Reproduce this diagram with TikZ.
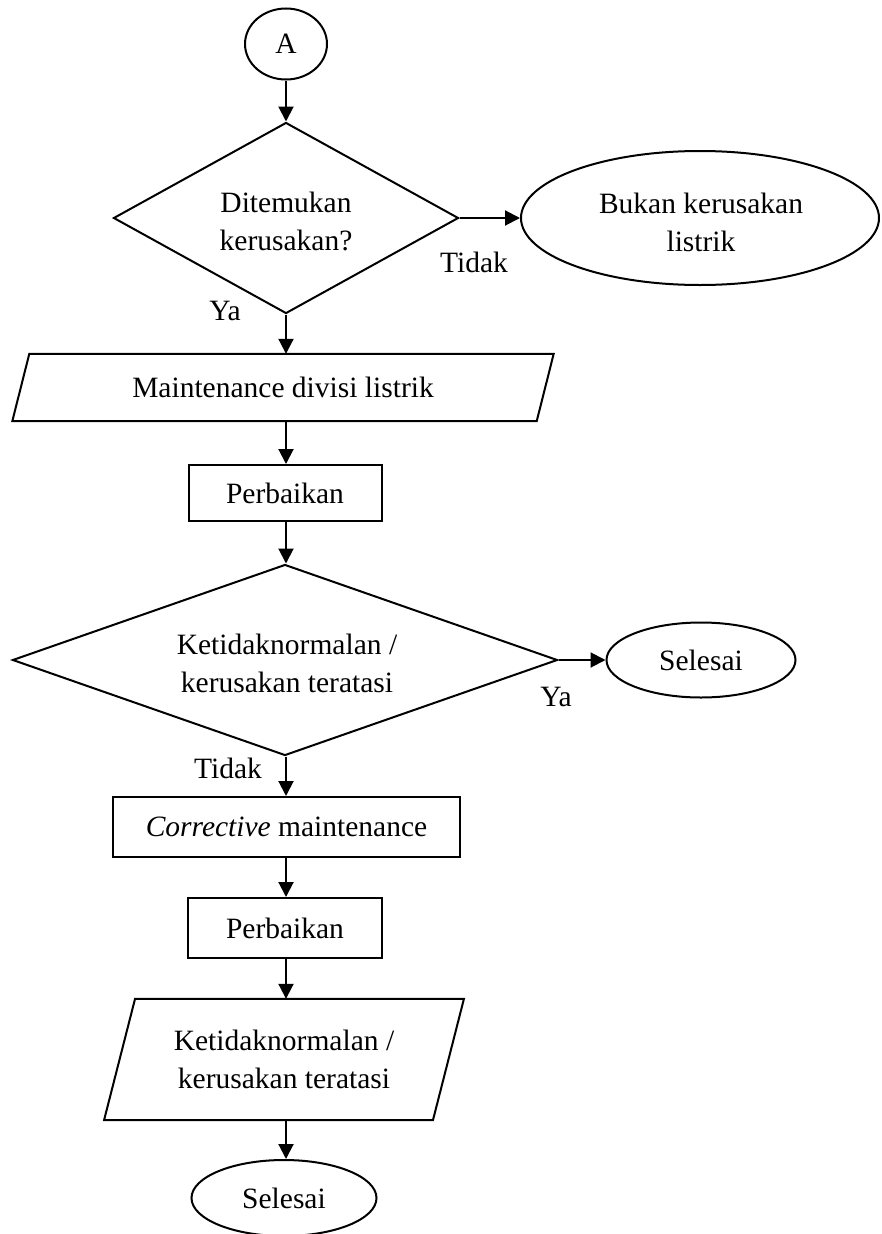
\documentclass[tikz,border=0pt]{standalone}
\usepackage{fontspec}
\setmainfont{Liberation Serif}
\usetikzlibrary{shapes.geometric,arrows.meta}

\begin{document}
\begin{tikzpicture}[x=1pt,y=-1pt,
  every node/.style={font=\fontsize{29.5}{38}\selectfont, align=center, inner sep=0pt},
  outline/.style={draw=black, line width=2pt},
  terminal/.style={outline, ellipse},
  decision/.style={outline, diamond},
  process/.style={outline, rectangle},
  iobox/.style={rectangle},
  flow/.style={line width=2pt, -{Triangle[length=15pt,width=15pt]}},
  lbl/.style={}
]
\useasboundingbox (0,0) rectangle (881,1234);

% main column
\node[terminal, minimum width=82pt, minimum height=71pt] (a) at (286,44) {A};
\node[decision, minimum width=345pt, minimum height=191pt] (d1) at (286,218) {};
\node (d1t) at (286,221) {Ditemukan\\kerusakan?};
\node[terminal, minimum width=358pt, minimum height=134pt] (bukan) at (700,218) {};
\node (bukant) at (701,222) {Bukan kerusakan\\listrik};

% input/output box: maintenance division
\node[iobox, minimum width=524pt, minimum height=67pt] (p1) at (283,387.5) {Maintenance divisi listrik};
\draw[outline] ([xshift=8.5pt]p1.north west) -- ([xshift=8.5pt]p1.north east)
  -- ([xshift=-8.5pt]p1.south east) -- ([xshift=-8.5pt]p1.south west) -- cycle;

\node[process, minimum width=193pt, minimum height=56pt] (b1) at (285,493) {Perbaikan};
\node[decision, minimum width=545pt, minimum height=191pt] (d2) at (285,660) {};
\node (d2t) at (287,663) {Ketidaknormalan /\\kerusakan teratasi};
\node[terminal, minimum width=189pt, minimum height=75pt] (sel1) at (701,660) {Selesai};

\node[process, minimum width=347pt, minimum height=60pt] (b2) at (286.5,827) {\textit{Corrective} maintenance};
\node[process, minimum width=194pt, minimum height=60pt] (b3) at (285,928) {Perbaikan};

% input/output box: result
\node[iobox, minimum width=328.5pt, minimum height=121pt] (p2) at (284,1059.5) {Ketidaknormalan /\\kerusakan teratasi};
\draw[outline] ([xshift=15.5pt]p2.north west) -- ([xshift=15.5pt]p2.north east)
  -- ([xshift=-15.5pt]p2.south east) -- ([xshift=-15.5pt]p2.south west) -- cycle;

\node[terminal, minimum width=185pt, minimum height=76pt] (sel2) at (284,1198) {Selesai};

% connectors
\draw[flow] (a.south) -- (a.south |- d1.north);
\draw[flow] (d1.east) -- (bukan.west);
\draw[flow] (d1.south) -- (d1.south |- p1.north);
\draw[flow] (d1.south |- p1.south) -- (d1.south |- b1.north);
\draw[flow] (d1.south |- b1.south) -- (d1.south |- d2.north);
\draw[flow] (d2.east) -- (sel1.west);
\draw[flow] (d1.south |- d2.south) -- (d1.south |- b2.north);
\draw[flow] (d1.south |- b2.south) -- (d1.south |- b3.north);
\draw[flow] (d1.south |- b3.south) -- (d1.south |- p2.north);
\draw[flow] (d1.south |- p2.south) -- (d1.south |- sel2.north);

% branch labels
\node[lbl] (tidak1) at (474,262) {Tidak};
\node[lbl] (ya1) at (225,311) {Ya};
\node[lbl] (ya2) at (556,697) {Ya};
\node[lbl] (tidak2) at (228,768) {Tidak};
\end{tikzpicture}
\end{document}
